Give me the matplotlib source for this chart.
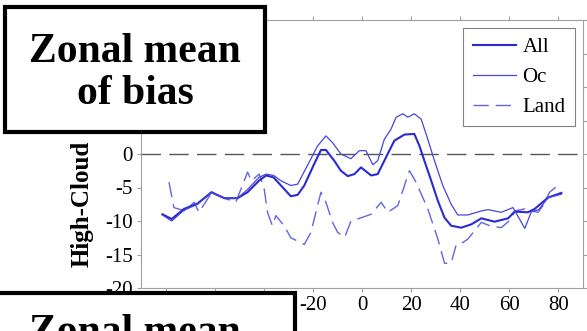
"""
Zonal mean of high-cloud bias, recreated with matplotlib
"""

import matplotlib
import matplotlib.pyplot as plt
from matplotlib.patches import Rectangle

matplotlib.use('Agg')

plt.rcParams['font.family'] = ['Liberation Serif', 'DejaVu Serif']
plt.rcParams['axes.unicode_minus'] = False

# All (latitude, bias)
all_lat = [-81.3, -77.5, -72.5, -67, -61.3, -56, -50.7, -46.6, -42, -39, -36, -33,
           -29, -26.2, -23.5, -19.5, -16.7, -14.7, -11.3, -8.6, -5.8, -3.1, -0.4, 3.7,
           6.4, 9.1, 11.8, 13.2, 17.3, 21.3, 23.4, 25.4, 28.2, 30.9, 33.6, 36.3,
           40.4, 44.5, 48.6, 54, 59.5, 62.2, 67.6, 70.3, 75.8, 81.2]
all_val = [-9.0, -9.7, -8.2, -7.4, -5.7, -6.6, -6.6, -5.7, -4.0, -3.2, -3.5, -4.7,
           -6.3, -6.1, -4.7, -1.5, 0.6, 0.6, -1.0, -2.5, -3.3, -3.0, -2.0, -3.2,
           -3.0, -1.0, 1.0, 2.0, 2.9, 3.0, 1.2, -1.0, -4.0, -7.0, -9.5, -10.7,
           -11.0, -10.5, -9.6, -10.1, -9.6, -8.6, -8.7, -8.2, -6.5, -5.8]

# Ocean only
oc_lat = [-81.3, -77.5, -72.5, -67, -61.3, -56, -50.7, -46.6, -42, -39, -36, -33,
          -29, -26.2, -22.2, -18.1, -14.7, -12, -8.6, -4.5, -1.1, 1.6, 4.4, 6.4,
          9.1, 11.8, 13.9, 16.6, 18.7, 21.3, 24.1, 26.8, 29.5, 32.9, 36.3, 39,
          43.1, 48.6, 51.3, 56.7, 61.5, 66.3, 69, 72, 75.8, 81.2]
oc_val = [-9.1, -10.0, -8.4, -7.5, -5.8, -6.6, -6.6, -5.3, -3.5, -3.0, -3.2, -4.0,
          -4.7, -4.5, -1.7, 1.2, 2.7, 1.7, 0.0, -0.7, 0.5, 0.5, -1.6, -1.0,
          2.2, 3.7, 5.5, 6.0, 5.5, 6.0, 5.2, 2.2, -1.0, -4.7, -7.5, -9.1,
          -9.1, -8.5, -8.3, -8.7, -8.0, -11.1, -8.6, -8.3, -6.5, -6.0]

# Land only
land_lat = [-78.6, -76.6, -72, -68.4, -66.4, -61.3, -56, -51.4, -46.6, -45, -41.9, -39.9,
            -38.5, -36.5, -35.1, -31.7, -29, -23.5, -20.8, -18.1, -16.7, -14.7, -12, -9.9,
            -7, -4.5, -1.8, 3.7, 7.8, 10.5, 14.6, 19.3, 22, 26.8, 30.9, 33.6,
            36.3, 38.4, 41.1, 43.1, 48.6, 52, 56.7, 60.8, 62.2, 66.3, 69, 71.7,
            73.7, 76.4, 80.5]
land_val = [-4.2, -8.0, -8.5, -7.2, -8.7, -5.8, -6.6, -7.2, -2.7, -4.0, -3.0, -5.0,
            -8.7, -10.7, -9.2, -10.7, -12.5, -13.5, -11.7, -7.7, -5.7, -7.2, -10.2, -11.7,
            -12.4, -10.0, -9.7, -9.0, -7.2, -8.7, -7.7, -2.5, -4.2, -8.2, -12.7, -16.3,
            -16.3, -13.5, -13.2, -12.7, -10.2, -10.7, -11.0, -9.7, -8.5, -8.2, -8.5, -8.7,
            -7.7, -5.7, -4.5]

x_ticks = [-80, -60, -40, -20, 0, 20, 40, 60, 80]
y_ticks = [-20, -15, -10, -5, 0, 5, 10, 15, 20]
# labels above zero sit behind the title box, so they are left blank
y_tick_labels = ['-20', '-15', '-10', '-5', '0', '', '', '', '']

W, H = 587, 331
fig = plt.figure(figsize=(W / 100, H / 100), dpi=100)
ax = fig.add_axes([141 / W, 43 / H, 442 / W, 268 / H])

ax.axhline(0, color='#555555', lw=1.0, ls=(0, (14, 6)), zorder=1)
ax.plot(all_lat, all_val, color='#2a2ad4', lw=1.5, label='All', zorder=3)
ax.plot(oc_lat, oc_val, color='#4646dc', lw=0.9, label='Oc', zorder=3)
ax.plot(land_lat, land_val, color='#6464e2', lw=1.0, ls=(0, (11, 5)), label='Land', zorder=2)

ax.set_xlim(-90, 90)
ax.set_ylim(-20, 20)
ax.set_xticks(x_ticks)
ax.set_yticks(y_ticks)
ax.set_yticklabels(y_tick_labels)
for s in ax.spines.values():
    s.set_color('#a0a0a0')
    s.set_linewidth(0.8)
ax.tick_params(direction='out', length=3, width=0.8, color='#a0a0a0',
               top=True, right=True, labelsize=15, pad=3)

leg = ax.legend(loc='upper right', bbox_to_anchor=(0.982, 0.970), borderaxespad=0,
                fontsize=15, handlelength=2.1, handletextpad=0.3, labelspacing=0.5,
                borderpad=0.45, fancybox=False, framealpha=1, edgecolor='#808080')
leg.get_frame().set_linewidth(0.8)

# y label, the rest of it is hidden behind the box
fig.text(82 / W, 1 - 267 / H, 'High-Cloud', rotation=90, ha='center', va='bottom',
         fontsize=18, fontweight='bold')

# title boxes
fig.patches.append(Rectangle((5 / W, 1 - 132 / H), 260 / W, 125 / H, transform=fig.transFigure,
                             facecolor='white', edgecolor='black', lw=3, zorder=5))
fig.text(135 / W, 1 - 73 / H, 'Zonal mean\nof bias', ha='center', va='center',
         fontsize=30, fontweight='bold', linespacing=1.15, zorder=6)

fig.patches.append(Rectangle((-25 / W, 1 - 418 / H), 320 / W, 125 / H, transform=fig.transFigure,
                             facecolor='white', edgecolor='black', lw=3, zorder=5))
fig.text(135 / W, 1 - 354 / H, 'Zonal mean\nof bias', ha='center', va='center',
         fontsize=30, fontweight='bold', linespacing=1.15, zorder=6)

fig.savefig('out.png', dpi=100, facecolor='white')
plt.close(fig)
